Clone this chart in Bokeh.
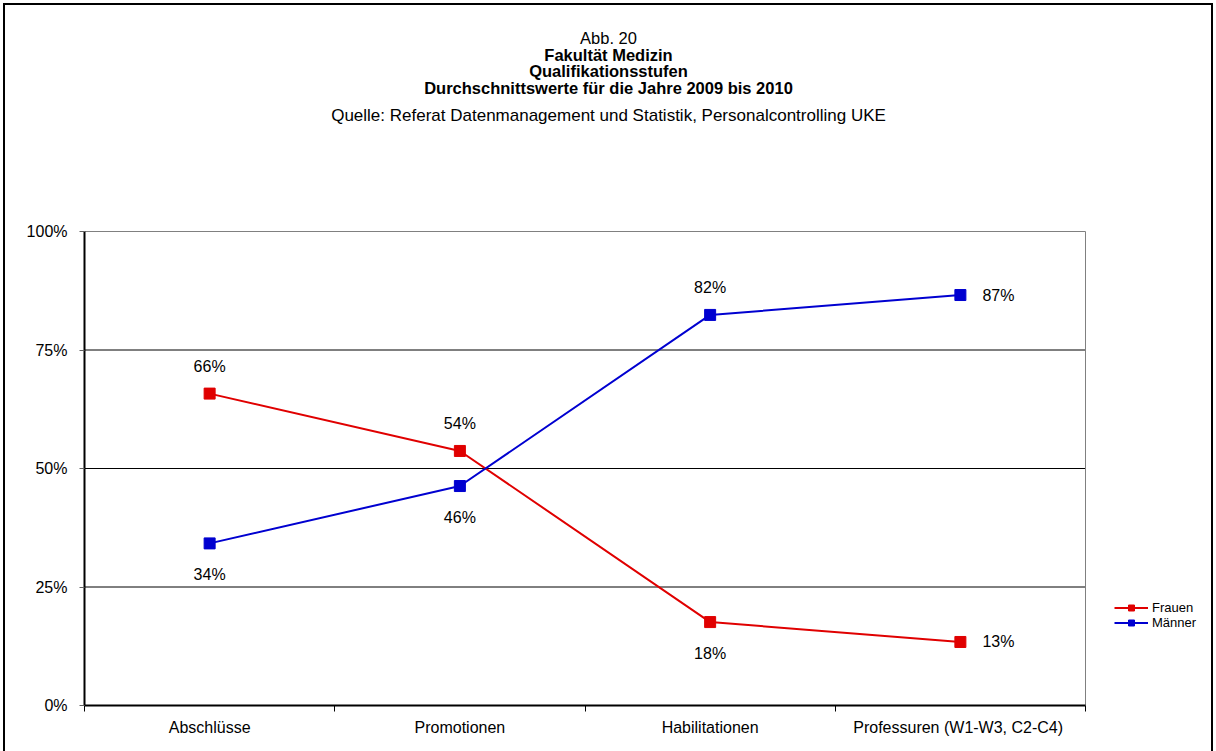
from bokeh.plotting import figure
from bokeh.models import (Range1d, FixedTicker, Legend, LegendItem, Label,
                          ColumnDataSource, GlobalInlineStyleSheet, InlineStyleSheet)
from bokeh.core.properties import value
from bokeh.embed import file_html
from bokeh.resources import INLINE

# ---------------- data ----------------
categories = ["Abschlüsse", "Promotionen", "Habilitationen", "Professuren (W1-W3,  C2-C4)"]
frauen = [65.8, 53.7, 17.6, 13.4]
maenner = [34.2, 46.3, 82.4, 86.6]
y_ticks = [0, 25, 50, 75, 100]
y_tick_labels = ["0%", "25%", "50%", "75%", "100%"]
title_lines = ["Abb. 20", "Fakultät Medizin", "Qualifikationsstufen",
               "Durchschnittswerte für die Jahre 2009 bis 2010"]
source_line = "Quelle: Referat Datenmanagement und Statistik, Personalcontrolling UKE"

# label placement (style)
frauen_pos = ["above", "above", "below", "right"]
maenner_pos = ["below", "below", "above", "right"]

RED = "#E00000"
BLUE = "#0000D0"
FONT = "Liberation Sans"

W, H = 1216, 751
# plot-area pixel box (value area) inside the canvas
PL, PR, PT, PB = 84, 1085, 231, 705
ncat = len(categories)
X_PER_PX = ncat / (PR - PL)
Y_PER_PX = 100 / (PB - PT)


def xd(px):
    return (px - PL) * X_PER_PX


def yd(py):
    return (PB - py) * Y_PER_PX


# the frame covers everything right of the y axis and above the x axis,
# axes are bounded to the value area
p = figure(width=W, height=H, output_backend="svg", toolbar_location=None,
           x_range=Range1d(0, xd(W)), y_range=Range1d(0, yd(0)),
           min_border_left=PL, min_border_right=0,
           min_border_top=0, min_border_bottom=H - PB)
p.stylesheets = [
    GlobalInlineStyleSheet(css="html,body{margin:0;padding:0;overflow:hidden;}"),
    InlineStyleSheet(css=":host{position:relative;overflow:hidden;}"
                         ":host::after{content:'';position:absolute;left:3px;top:3px;"
                         "width:1210px;height:800px;border:2px solid black;"
                         "box-sizing:border-box;pointer-events:none;z-index:50;}"),
]
p.background_fill_color = "white"
p.border_fill_color = "white"
p.outline_line_color = None

xs = [i + 0.5 for i in range(ncat)]

# grid lines and plot-area border
p.xgrid.visible = False
p.ygrid.visible = False
inner = [t for t in y_ticks if 0 < t < 100]
p.segment(x0=[0] * len(inner), x1=[ncat] * len(inner), y0=inner, y1=inner,
          line_color="black", line_width=1)
p.segment(x0=[0, ncat], x1=[ncat, ncat], y0=[y_ticks[-1], 0], y1=[y_ticks[-1], y_ticks[-1]],
          line_color="#808080", line_width=1)

# x axis
p.xaxis.bounds = (0, ncat)
p.xaxis.ticker = FixedTicker(ticks=xs, minor_ticks=list(range(ncat + 1)))
p.xaxis.major_label_overrides = {x: c for x, c in zip(xs, categories)}
p.xaxis.major_tick_out = 0
p.xaxis.major_tick_in = 0
p.xaxis.minor_tick_out = 6
p.xaxis.minor_tick_in = 0
p.xaxis.minor_tick_line_color = "black"
p.xaxis.axis_line_width = 2
p.xaxis.axis_line_color = "black"
p.xaxis.major_label_standoff = 7
p.xaxis.major_label_text_font = FONT
p.xaxis.major_label_text_font_size = "16px"
p.xaxis.major_label_text_color = "black"

# y axis
p.yaxis.bounds = (0, 100)
p.yaxis.ticker = FixedTicker(ticks=y_ticks, minor_ticks=[])
p.yaxis.major_label_overrides = {t: l for t, l in zip(y_ticks, y_tick_labels)}
p.yaxis.major_tick_out = 5
p.yaxis.major_tick_in = 0
p.yaxis.major_tick_line_color = "#606060"
p.yaxis.axis_line_width = 2
p.yaxis.axis_line_color = "black"
p.yaxis.major_label_standoff = 12
p.yaxis.major_label_text_font = FONT
p.yaxis.major_label_text_font_size = "16px"
p.yaxis.major_label_text_color = "black"

# series
rf = p.line(xs, frauen, line_color=RED, line_width=2)
sf = p.scatter(xs, frauen, marker="square", size=11, fill_color=RED, line_color=RED)
rm = p.line(xs, maenner, line_color=BLUE, line_width=2)
sm = p.scatter(xs, maenner, marker="square", size=11, fill_color=BLUE, line_color=BLUE)


def add_labels(vals, pos):
    c = dict(x=[], y=[], t=[], dy=[])
    r = dict(x=[], y=[], t=[])
    for x, v, ps in zip(xs, vals, pos):
        txt = f"{round(v):d}%"
        if ps == "right":
            r["x"].append(x); r["y"].append(v); r["t"].append(txt)
        else:
            c["x"].append(x); c["y"].append(v); c["t"].append(txt)
            c["dy"].append(-27 if ps == "above" else 31)
    p.text(x="x", y="y", text="t", y_offset="dy", source=ColumnDataSource(c),
           text_align="center", text_baseline="middle", text_font=value(FONT),
           text_font_size="16px", text_color="black")
    p.text(x="x", y="y", text="t", x_offset=22, source=ColumnDataSource(r),
           text_align="left", text_baseline="middle", text_font=value(FONT),
           text_font_size="16px", text_color="black")


add_labels(frauen, frauen_pos)
add_labels(maenner, maenner_pos)

# titles
title_y = [37, 54, 70, 87]
for i, (t, py) in enumerate(zip(title_lines, title_y)):
    p.add_layout(Label(x=xd(608), y=yd(py), text=t, text_align="center",
                       text_baseline="middle", text_font=FONT,
                       text_font_size="16.5px",
                       text_font_style="normal" if i == 0 else "bold",
                       text_color="black"))
p.add_layout(Label(x=xd(608), y=yd(115), text=source_line, text_align="center",
                   text_baseline="middle", text_font=FONT, text_font_size="17px",
                   text_color="black"))

# legend
legend = Legend(items=[LegendItem(label="Frauen", renderers=[rf, sf]),
                       LegendItem(label="Männer", renderers=[rm, sm])],
                location=(1113 - PL, PB - 631), orientation="vertical",
                glyph_width=34, glyph_height=15, label_height=15,
                label_standoff=4, spacing=0, padding=1, margin=0,
                label_text_font=FONT, label_text_font_size="13px",
                label_text_color="black", background_fill_alpha=0,
                border_line_alpha=0)
p.add_layout(legend)

open("out.html", "w").write(file_html(p, INLINE))
